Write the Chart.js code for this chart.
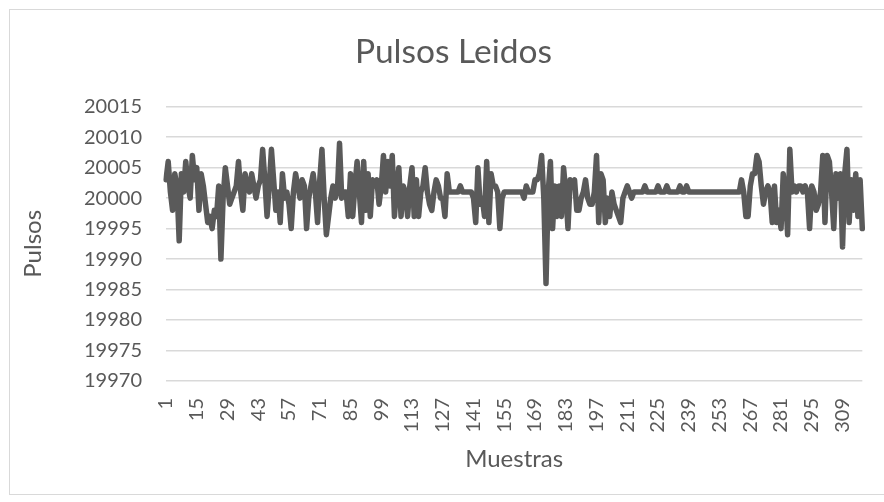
<!DOCTYPE html>
<html>
<head>
<meta charset="utf-8">
<script src="https://cdn.jsdelivr.net/npm/chart.js@4/dist/chart.umd.min.js"></script>
<style>
  html, body { margin: 0; padding: 0; background: #ffffff; overflow: hidden; }
  #wrap { position: relative; width: 884px; height: 502px; overflow: hidden; }
  #frame { position: absolute; left: 9px; top: 9px; width: 900px; height: 484px;
           border: 1px solid #d9d9d9; pointer-events: none; }
  canvas { position: absolute; left: 0; top: 0; }
</style>
</head>
<body>
<div id="wrap">
  <canvas id="c" width="884" height="502"></canvas>
  <div id="frame"></div>
</div>
<script>
// Pulse readings per sample
const pulsos = [
  20003,20006,20001,19998,20004,20002,19993,20004,20001,20006,20002,20000,20007,20003,20005,19998,20004,20002,19999,19996,
  19997,19995,19998,19997,20002,19990,20000,20005,20002,19999,20000,20001,20002,20006,20001,19998,20004,20002,20001,20004,
  20002,20000,20002,20003,20008,20003,19997,20002,20008,20003,19998,20001,19996,20004,20000,20001,19999,19995,20001,20004,
  20002,20000,20003,20002,19995,20000,20002,20004,20001,19996,20003,20008,20000,19994,19997,20000,20002,20000,20001,20009,
  20000,20001,20001,19997,20004,19997,20002,20006,20001,19996,20006,19998,20004,19997,20003,20002,20003,19999,20002,20007,
  20001,20006,20002,20007,19997,20002,20005,19997,20002,20001,19997,20002,20005,19997,20003,19997,20001,20002,20005,20001,
  19999,19998,20001,20003,20002,20000,20000,19997,20004,20001,20001,20001,20001,20001,20002,20001,20001,20001,20001,20001,
  20000,19996,20005,19999,20000,19997,20006,19996,20004,20002,20002,20001,19995,20000,20001,20001,20001,20001,20001,20001,
  20001,20001,20001,20000,20002,20001,20001,20001,20003,20003,20004,20007,20000,19986,20001,20006,19995,20002,19997,20002,
  19997,20005,20001,19995,20003,20002,20003,19998,19998,20000,20001,20003,20000,19999,19999,20001,20007,19996,20004,20003,
  19996,20000,19997,20001,19999,19998,19997,19996,20000,20001,20002,20001,20000,20001,20001,20001,20001,20001,20002,20001,
  20001,20001,20001,20001,20002,20001,20001,20001,20002,20001,20001,20001,20001,20001,20002,20001,20001,20002,20001,20001,
  20001,20001,20001,20001,20001,20001,20001,20001,20001,20001,20001,20001,20001,20001,20001,20001,20001,20001,20001,20001,
  20001,20001,20003,20001,19997,19997,20002,20004,20004,20007,20006,20002,19999,20001,20002,20001,19996,20002,19996,19998,
  19995,20004,20001,19994,20008,20001,20002,20001,20002,20002,20001,20002,20001,19995,20002,20001,19998,19999,20001,20007,
  19996,20007,20006,20001,19995,20004,20000,20004,19992,20004,20008,19996,20003,19998,20004,19997,20003,19995
];

// Sample numbers (categories)
const muestras = pulsos.map((_, i) => i + 1);

// Value axis tick labels
const yTicks = [19970, 19975, 19980, 19985, 19990, 19995, 20000, 20005, 20010, 20015];

// Every 14th sample gets a label on the category axis
const labelStep = 14;

const textColor = '#595959';
Chart.defaults.font.family = 'Lato, "Open Sans", sans-serif';
Chart.defaults.color = textColor;

// The chart title is centred on the full chart frame, which extends past the right edge
const titleShift = {
  id: 'titleShift',
  afterLayout(chart) {
    const t = chart.titleBlock;
    if (t) { t.left += 19.5; t.right += 19.5; }
  }
};

new Chart(document.getElementById('c'), {
  type: 'line',
  plugins: [titleShift],
  data: {
    labels: muestras,
    datasets: [{
      data: pulsos,
      borderColor: '#5a5a5a',
      borderWidth: 5.5,
      borderJoinStyle: 'round',
      borderCapStyle: 'round',
      pointRadius: 0,
      tension: 0,
      fill: false
    }]
  },
  options: {
    responsive: false,
    animation: false,
    devicePixelRatio: 1,
    layout: { padding: { left: 0, right: 16, top: 0, bottom: 0 } },
    plugins: {
      legend: { display: false },
      tooltip: { enabled: false },
      title: {
        display: true,
        text: 'Pulsos Leidos',
        color: textColor,
        font: { size: 33.5, weight: 'normal' },
        padding: { top: 32.4, bottom: 34.1 }
      }
    },
    scales: {
      x: {
        type: 'category',
        offset: false,
        grid: { display: false, drawTicks: false },
        border: { display: false },
        ticks: {
          autoSkip: false,
          minRotation: 90,
          maxRotation: 90,
          padding: 17,
          color: textColor,
          font: { size: 20 },
          callback: (v, i) => (i % labelStep === 0 ? String(muestras[i]) : null)
        },
        title: {
          display: true,
          text: 'Muestras',
          color: textColor,
          font: { size: 24 },
          padding: { top: 0, bottom: 28 }
        },
        afterFit: (s) => { s.height = 121; }
      },
      y: {
        min: yTicks[0],
        max: yTicks[yTicks.length - 1],
        afterBuildTicks: (s) => { s.ticks = yTicks.map(v => ({ value: v })); },
        grid: { color: '#d9d9d9', lineWidth: 1.5, drawTicks: false },
        border: { display: false },
        ticks: {
          padding: 24,
          color: textColor,
          font: { size: 20 },
          callback: (v) => String(v)
        },
        title: {
          display: true,
          text: 'Pulsos',
          color: textColor,
          font: { size: 24 },
          padding: { top: 19, bottom: 0 }
        },
        afterFit: (s) => { s.width = 166; }
      }
    }
  }
});
</script>
</body>
</html>
